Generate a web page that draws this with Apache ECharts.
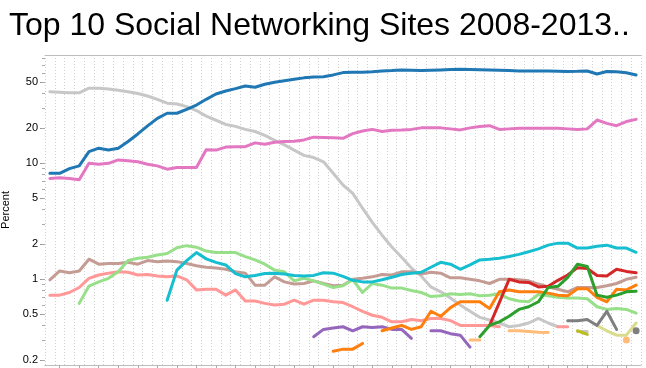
<!DOCTYPE html>
<html><head><meta charset="utf-8">
<script src="https://cdn.jsdelivr.net/npm/echarts@6/dist/echarts.min.js"></script>
<style>html,body{margin:0;padding:0;background:#fff}#c{width:646px;height:368px}</style>
</head><body><div id="c"></div>
<script>
const titleText = 'Top 10 Social Networking Sites 2008-2013..';
const months = ['2008-01','2008-02','2008-03','2008-04','2008-05','2008-06','2008-07','2008-08','2008-09','2008-10','2008-11','2008-12',
'2009-01','2009-02','2009-03','2009-04','2009-05','2009-06','2009-07','2009-08','2009-09','2009-10','2009-11','2009-12',
'2010-01','2010-02','2010-03','2010-04','2010-05','2010-06','2010-07','2010-08','2010-09','2010-10','2010-11','2010-12',
'2011-01','2011-02','2011-03','2011-04','2011-05','2011-06','2011-07','2011-08','2011-09','2011-10','2011-11','2011-12',
'2012-01','2012-02','2012-03','2012-04','2012-05','2012-06','2012-07','2012-08','2012-09','2012-10','2012-11','2012-12',
'2013-01'];
const yTickLabels = [0.2, 0.5, 1, 2, 5, 10, 20, 50];
const yMinorTicks = [0.2,0.3,0.4,0.5,0.6,0.7,0.8,0.9,1,2,3,4,5,6,7,8,9,10,20,30,40,50,60,70,80];
const yMin = 0.1825, yMax = 85.8;
const _ = null;

const blue = [8.2,8.2,9.0,9.5,12.6,13.5,13.0,13.5,15.4,17.9,21,24.4,27,27,29.2,31.8,35.6,39.6,42,44,46.4,45.2,48,50,51.5,53,54.5,55.5,55.8,57.8,60.5,61,61,61.5,62.5,63,63.8,63.5,63,63.5,63.8,64.2,64.6,64.3,64,63.8,63.5,63,62.5,62.5,62.5,62.5,62.2,61.8,62,62.5,58.9,61.8,61.5,60.4,57.7];
const lightGray = [41.4,40.9,40.5,40.5,44.4,44.4,43.6,42.6,41.4,40.0,38.0,35.6,33.0,32.4,30.8,28.5,25.5,23.5,21.6,20.8,19.6,18.8,17.4,15.8,14.4,13.0,11.7,11.2,10.3,8.2,6.5,5.5,4.1,3.1,2.4,1.9,1.55,1.25,1.07,0.86,0.78,0.69,0.60,0.53,0.47,0.446,0.42,0.39,0.40,0.42,0.46,0.42,0.39,_,0.354,0.354,_,_,_,_,_];
const pink = [7.4,7.5,7.4,7.2,10.0,9.8,10.0,10.7,10.5,10.3,9.8,9.5,8.9,9.2,9.2,9.2,13.1,13.0,13.8,13.9,13.9,15.0,14.6,15.2,15.4,15.5,15.9,16.8,16.7,16.6,16.4,18.0,19.0,19.6,18.8,19.3,19.4,19.6,20.2,20.2,20.2,19.8,19.4,20.2,20.8,21.1,19.6,19.8,20.0,20.0,20.0,20.0,20.0,19.8,19.6,19.8,23.6,22.1,21.1,22.9,23.9];
const cyan = [_,_,_,_,_,_,_,_,_,_,_,_,0.66,1.20,1.45,1.70,1.50,1.40,1.33,1.12,1.05,1.08,1.12,1.13,1.11,1.08,1.07,1.08,1.14,1.13,1.06,0.98,0.95,0.95,0.99,1.04,1.10,1.13,1.15,1.27,1.40,1.35,1.22,1.33,1.47,1.49,1.52,1.57,1.64,1.73,1.83,1.97,2.05,2.05,1.86,1.86,1.93,1.97,1.86,1.86,1.71];
const brown = [0.99,1.18,1.14,1.18,1.49,1.35,1.37,1.37,1.40,1.35,1.45,1.42,1.44,1.42,1.37,1.31,1.27,1.25,1.22,1.16,1.13,0.89,0.89,1.05,0.95,0.91,0.92,0.97,0.92,0.88,0.89,1.0,1.02,1.05,1.10,1.09,1.16,1.16,1.11,1.15,1.13,1.03,1.03,1.0,0.97,0.92,1.0,1.0,0.99,0.97,0.91,0.86,0.82,0.78,0.85,0.85,0.85,0.88,0.92,1.0,1.04];
const lightGreen = [_,_,_,0.62,0.875,0.95,1.02,1.16,1.45,1.52,1.55,1.62,1.67,1.87,1.95,1.89,1.75,1.70,1.70,1.70,1.57,1.47,1.35,1.20,1.16,0.97,1.02,0.97,0.91,0.85,0.88,0.99,0.77,0.92,0.89,0.84,0.84,0.80,0.77,0.71,0.72,0.75,0.74,0.75,0.72,0.73,0.75,0.68,0.65,0.64,0.74,0.72,0.70,0.69,0.69,0.68,0.58,0.55,0.56,0.55,0.51];
const salmon = [0.73,0.73,0.77,0.85,1.02,1.09,1.13,1.16,1.15,1.09,1.10,1.07,1.05,1.07,0.99,0.81,0.82,0.82,0.73,0.81,0.65,0.65,0.62,0.60,0.61,0.66,0.61,0.66,0.66,0.64,0.63,0.58,0.53,0.49,0.47,0.43,0.43,0.45,0.44,0.46,0.46,0.44,0.40,0.40,0.40,0.40,0.39,_,_,_,_,_,0.39,0.39,_,_,_,_,_,_,_];
const purple = [_,_,_,_,_,_,_,_,_,_,_,_,_,_,_,_,_,_,_,_,_,_,_,_,_,_,_,0.32,0.37,0.38,0.39,0.36,0.39,0.385,0.39,0.37,0.37,0.31,_,0.36,0.36,0.34,0.33,0.26,_,_,_,_,_,_,_,_,_,_,_,_,_,_,_,_,_];
const orange = [_,_,_,_,_,_,_,_,_,_,_,_,_,_,_,_,_,_,_,_,_,_,_,_,_,_,_,_,_,0.24,0.25,0.25,0.28,_,0.36,0.38,0.40,0.37,0.39,0.53,0.48,0.57,0.64,0.64,0.64,0.56,0.78,0.81,0.78,0.78,0.78,0.76,0.73,0.72,0.83,0.83,0.70,0.64,0.82,0.81,0.89];
const red = [_,_,_,_,_,_,_,_,_,_,_,_,_,_,_,_,_,_,_,_,_,_,_,_,_,_,_,_,_,_,_,_,_,_,_,_,_,_,_,_,_,_,_,_,_,0.40,0.63,1.0,0.95,0.94,0.86,0.87,0.98,1.09,1.26,1.24,1.08,1.07,1.22,1.17,1.14];
const green = [_,_,_,_,_,_,_,_,_,_,_,_,_,_,_,_,_,_,_,_,_,_,_,_,_,_,_,_,_,_,_,_,_,_,_,_,_,_,_,_,_,_,_,_,0.32,0.40,0.43,0.48,0.55,0.58,0.64,0.85,0.87,1.04,1.35,1.29,0.73,0.70,0.73,0.78,0.79];
const darkGray = [_,_,_,_,_,_,_,_,_,_,_,_,_,_,_,_,_,_,_,_,_,_,_,_,_,_,_,_,_,_,_,_,_,_,_,_,_,_,_,_,_,_,_,_,_,_,_,_,_,_,_,_,_,0.44,0.44,0.45,0.40,0.53,0.37,_,0.36];
const olive = [_,_,_,_,_,_,_,_,_,_,_,_,_,_,_,_,_,_,_,_,_,_,_,_,_,_,_,_,_,_,_,_,_,_,_,_,_,_,_,_,_,_,_,_,_,_,_,_,_,_,_,_,_,_,0.36,0.335,_,_,_,_,_];
const lightOlive = [_,_,_,_,_,_,_,_,_,_,_,_,_,_,_,_,_,_,_,_,_,_,_,_,_,_,_,_,_,_,_,_,_,_,_,_,_,_,_,_,_,_,_,_,_,_,_,_,_,_,_,_,_,_,_,_,0.40,0.36,0.33,0.33,0.42];
const lightOrange = [_,_,_,_,_,_,_,_,_,_,_,_,_,_,_,_,_,_,_,_,_,_,_,_,_,_,_,_,_,_,_,_,_,_,_,_,_,_,_,_,_,_,_,0.30,0.30,_,_,0.36,0.36,0.355,0.35,0.348,_,_,_,_,_,_,_,0.30,_];

const seriesDefs = [
  ['lightGray', lightGray, '#c7c7c7'],
  ['brown', brown, '#c49c94'],
  ['salmon', salmon, '#ff9896'],
  ['lightGreen', lightGreen, '#98df8a'],
  ['purple', purple, '#9467bd'],
  ['lightOrange', lightOrange, '#ffbb78'],
  ['olive', olive, '#bcbd22'],
  ['lightOlive', lightOlive, '#dbdb8d'],
  ['darkGray', darkGray, '#7f7f7f'],
  ['orange', orange, '#ff7f0e'],
  ['cyan', cyan, '#17becf'],
  ['red', red, '#d62728'],
  ['green', green, '#2ca02c'],
  ['pink', pink, '#e377c2'],
  ['blue', blue, '#1f77b4']
];

const font = 'Liberation Sans, Arial, sans-serif';
const series = seriesDefs.map(([name, data, color]) => ({
  name, type: 'line', data, xAxisIndex: 0, yAxisIndex: 0,
  connectNulls: false, showSymbol: true, showAllSymbol: true, symbol: 'circle',
  symbolSize: (v, p) => {
    const i = p.dataIndex;
    const prev = i > 0 ? data[i - 1] : null;
    const next = i < data.length - 1 ? data[i + 1] : null;
    return (prev == null && next == null) ? 7 : 0;
  },
  itemStyle: { color },
  lineStyle: { color, width: 3, cap: 'round', join: 'round' },
  emphasis: { disabled: true },
  silent: true
}));

const chart = echarts.init(document.getElementById('c'), null, { renderer: 'canvas' });
chart.setOption({
  animation: false,
  backgroundColor: '#fff',
  title: {
    text: titleText, left: 9, top: 10, padding: 0,
    textStyle: { fontFamily: font, fontSize: 32, fontWeight: 'normal', color: '#000' }
  },
  grid: { left: 45, right: 5, top: 55, bottom: 3, containLabel: false, outerBoundsMode: 'none' },
  xAxis: [{
    type: 'category', data: months, boundaryGap: true,
    axisLine: { show: true, lineStyle: { color: '#bdbdbd', width: 1 } },
    axisTick: { show: true, alignWithLabel: true, interval: (i) => i % 2 === 1, length: 3, lineStyle: { color: '#aaa' } },
    axisLabel: { show: false },
    splitLine: { show: true, interval: 0, lineStyle: { type: [1, 2], color: '#cfcfcf', width: 1 } }
  }, {
    type: 'category', data: months, position: 'top', boundaryGap: true,
    axisLine: { show: true, lineStyle: { color: '#bdbdbd', width: 1 } },
    axisTick: { show: false }, axisLabel: { show: false }, splitLine: { show: false }
  }],
  yAxis: [{
    type: 'log', logBase: 10, min: yMin, max: yMax, position: 'left',
    axisLine: { show: false },
    axisTick: { show: true, length: 5, customValues: yTickLabels, lineStyle: { color: '#999' } },
    axisLabel: { show: true, customValues: yTickLabels, margin: 7, color: '#000', fontSize: 11, fontFamily: font,
      formatter: (v) => String(+(+v).toPrecision(3)) },
    splitLine: { show: false },
    name: 'Percent', nameLocation: 'middle', nameGap: 25, nameRotate: 90,
    nameTextStyle: { color: '#000', fontSize: 11, fontFamily: font }
  }, {
    type: 'log', logBase: 10, min: yMin, max: yMax, position: 'left', offset: 0,
    axisLine: { show: false },
    axisTick: { show: true, length: 3, customValues: yMinorTicks, lineStyle: { color: '#aaa' } },
    axisLabel: { show: false }, splitLine: { show: false }
  }],
  series
});
</script>
</body></html>
